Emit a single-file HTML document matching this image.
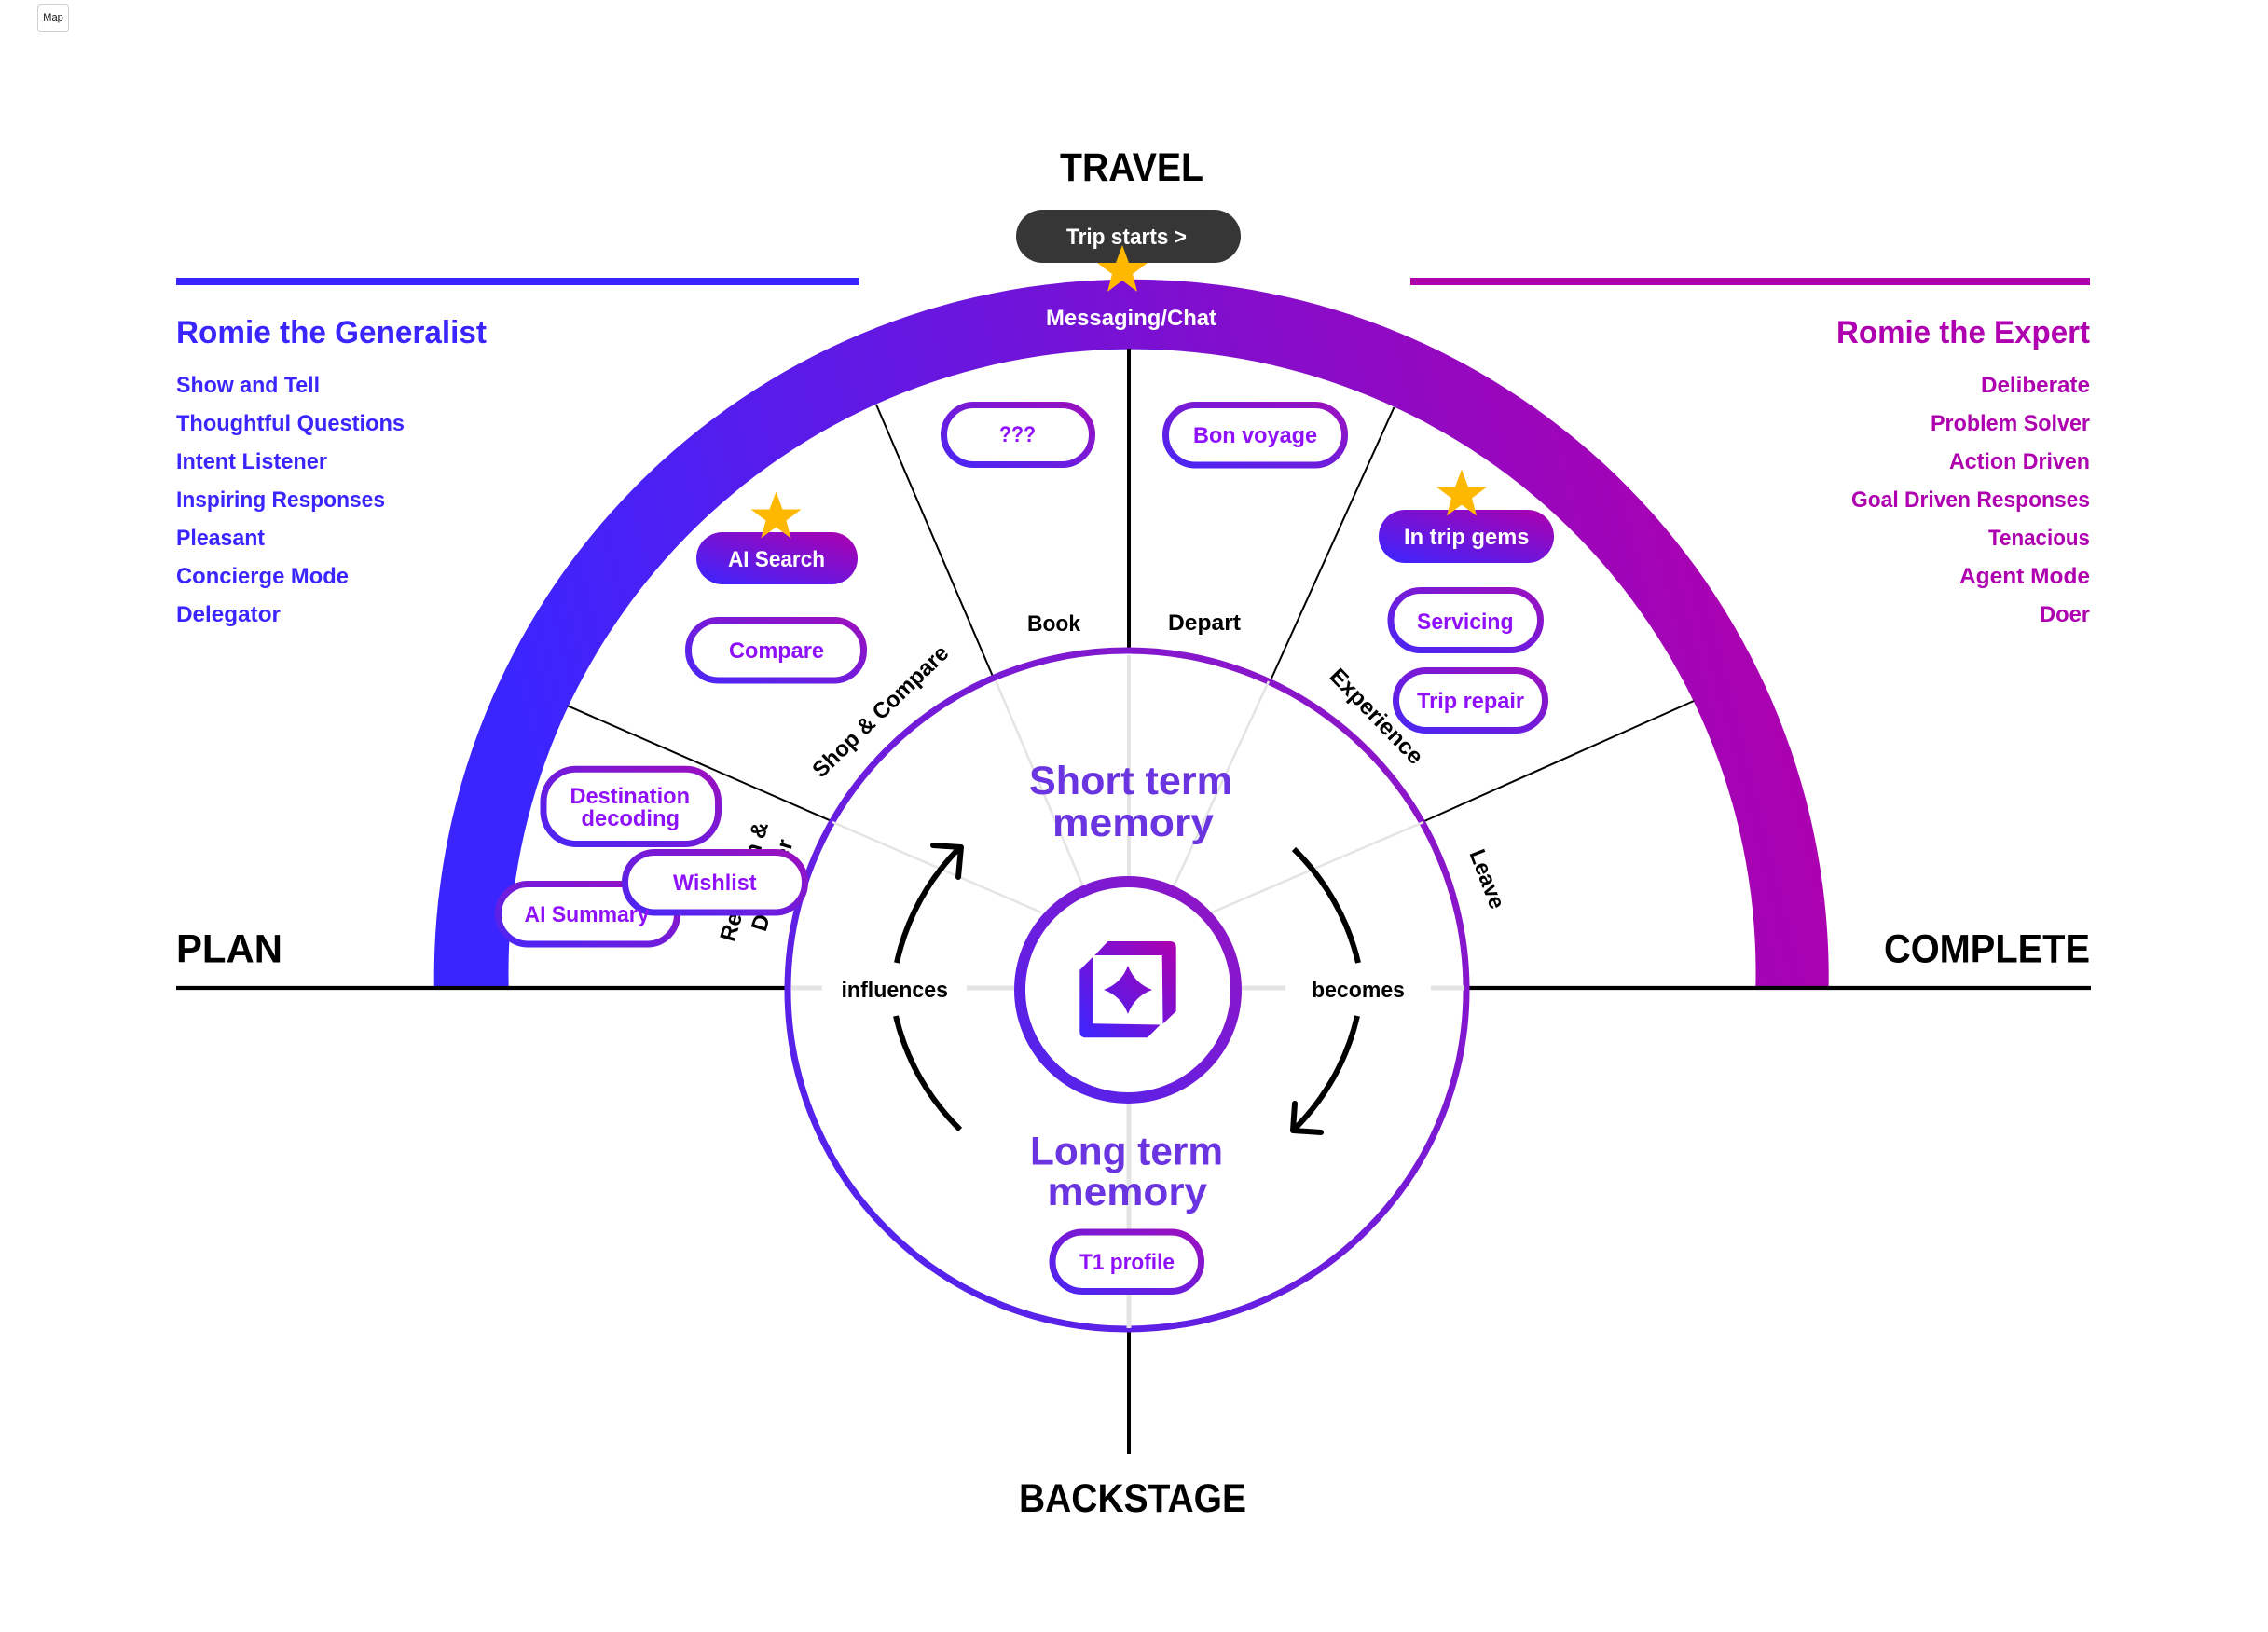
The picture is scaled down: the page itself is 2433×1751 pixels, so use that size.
<!DOCTYPE html>
<html><head><meta charset="utf-8"><style>
html,body{margin:0;padding:0;background:#fff}
svg{display:block}
text{font-family:"Liberation Sans",sans-serif;font-weight:700}
.p{fill:#8F10FA;font-size:24px}
.g{fill:#3B25FF;font-size:24px}
.e{fill:#AE00AE;font-size:24px}
.k{fill:#000;font-size:24px}
.h{fill:#000;font-size:43px}
.m{fill:#6A35E0;font-size:43px}
.w{fill:#fff;font-size:24px}
</style></head><body>
<svg width="2433" height="1751" viewBox="0 0 2433 1751" xmlns="http://www.w3.org/2000/svg">
<defs>
<linearGradient id="band" gradientUnits="userSpaceOnUse" x1="544" y1="700" x2="1851" y2="373"><stop offset="0" stop-color="#3B25FF"/><stop offset="1" stop-color="#AE00AE"/></linearGradient>
<linearGradient id="pill" x1="0" y1="1" x2="1" y2="0"><stop offset="0" stop-color="#4A26F5"/><stop offset="1" stop-color="#9C10BE"/></linearGradient>
<linearGradient id="fill" x1="0" y1="1" x2="1" y2="0"><stop offset="0" stop-color="#3B25FF"/><stop offset="1" stop-color="#AE00AE"/></linearGradient>
<linearGradient id="ring" gradientUnits="userSpaceOnUse" x1="800" y1="1430" x2="1620" y2="700"><stop offset="0" stop-color="#4526F5"/><stop offset="1" stop-color="#9A12C0"/></linearGradient>
<linearGradient id="hub" gradientUnits="userSpaceOnUse" x1="1080" y1="1185" x2="1340" y2="940"><stop offset="0" stop-color="#4826F3"/><stop offset="1" stop-color="#9A12C0"/></linearGradient>
<linearGradient id="icon" gradientUnits="userSpaceOnUse" x1="1158" y1="1113" x2="1262" y2="1010"><stop offset="0" stop-color="#3B25FF"/><stop offset="1" stop-color="#AE00AE"/></linearGradient>
<polygon id="star" points="0,0 7,19 27,19 11,31 16,50 0,38 -16,50 -11,31 -27,19 -7,19" fill="#FFB800"/>
</defs>

<!-- Map tag -->
<rect x="40.5" y="4.5" width="33" height="29" rx="3" fill="#fff" stroke="#cfcfcf"/>
<text x="57" y="22" text-anchor="middle" style="font-size:11px;font-weight:400" fill="#111">Map</text>

<!-- top bars -->
<rect x="189" y="298" width="733" height="8" fill="#3B25FF"/>
<rect x="1513" y="298" width="729" height="8" fill="#AE00AE"/>

<!-- left text -->
<text class="g" x="189" y="368" textLength="333" lengthAdjust="spacingAndGlyphs" style="font-size:34px">Romie the Generalist</text>
<text class="g" x="189" y="421" textLength="154" lengthAdjust="spacingAndGlyphs">Show and Tell</text>
<text class="g" x="189" y="462" textLength="245" lengthAdjust="spacingAndGlyphs">Thoughtful Questions</text>
<text class="g" x="189" y="503" textLength="162" lengthAdjust="spacingAndGlyphs">Intent Listener</text>
<text class="g" x="189" y="544" textLength="224" lengthAdjust="spacingAndGlyphs">Inspiring Responses</text>
<text class="g" x="189" y="585" textLength="95" lengthAdjust="spacingAndGlyphs">Pleasant</text>
<text class="g" x="189" y="626" textLength="185" lengthAdjust="spacingAndGlyphs">Concierge Mode</text>
<text class="g" x="189" y="667" textLength="112" lengthAdjust="spacingAndGlyphs">Delegator</text>

<!-- right text -->
<text class="e" x="1970" y="368" textLength="272" lengthAdjust="spacingAndGlyphs" style="font-size:34px">Romie the Expert</text>
<text class="e" x="2125" y="421" textLength="117" lengthAdjust="spacingAndGlyphs">Deliberate</text>
<text class="e" x="2071" y="462" textLength="171" lengthAdjust="spacingAndGlyphs">Problem Solver</text>
<text class="e" x="2091" y="503" textLength="151" lengthAdjust="spacingAndGlyphs">Action Driven</text>
<text class="e" x="1986" y="544" textLength="256" lengthAdjust="spacingAndGlyphs">Goal Driven Responses</text>
<text class="e" x="2133" y="585" textLength="109" lengthAdjust="spacingAndGlyphs">Tenacious</text>
<text class="e" x="2102" y="626" textLength="140" lengthAdjust="spacingAndGlyphs">Agent Mode</text>
<text class="e" x="2188" y="667" textLength="54" lengthAdjust="spacingAndGlyphs">Doer</text>

<!-- headings -->
<text class="h" x="1137" y="194" textLength="154" lengthAdjust="spacingAndGlyphs">TRAVEL</text>
<text class="h" x="189" y="1032.5" textLength="114" lengthAdjust="spacingAndGlyphs">PLAN</text>
<text class="h" x="2021" y="1032.5" textLength="221" lengthAdjust="spacingAndGlyphs">COMPLETE</text>
<text class="h" x="1093" y="1622" textLength="244" lengthAdjust="spacingAndGlyphs">BACKSTAGE</text>

<!-- band -->
<path d="M465.8 1060 A748 748 0 1 1 1961.6 1060 L1883.3 1060 A669 669 0 1 0 545.7 1060 Z" fill="url(#band)"/>

<!-- spokes -->
<g stroke="#000" fill="none">
<line x1="189" y1="1060" x2="846" y2="1060" stroke-width="4.3"/>
<line x1="1576" y1="1060" x2="2243" y2="1060" stroke-width="4.3"/>
<line x1="1211" y1="374" x2="1211" y2="700" stroke-width="4"/>
<line x1="1211" y1="1428" x2="1211" y2="1560" stroke-width="4"/>
<line x1="940" y1="434" x2="1066" y2="728" stroke-width="2"/>
<line x1="609" y1="757.3" x2="892" y2="881" stroke-width="2"/>
<line x1="1495.5" y1="437" x2="1363" y2="730" stroke-width="2"/>
<line x1="1817" y1="752" x2="1528" y2="881" stroke-width="2"/>
</g>

<!-- big ring -->
<circle cx="1209" cy="1062" r="364" fill="#fff" stroke="url(#ring)" stroke-width="7"/>

<!-- grey inner lines -->
<g stroke="#E4E4E4" fill="none">
<line x1="1211" y1="703" x2="1211" y2="945" stroke-width="4"/>
<line x1="1211" y1="1180" x2="1211" y2="1425" stroke-width="5"/>
<line x1="1068" y1="730" x2="1161" y2="949" stroke-width="2.5"/>
<line x1="893" y1="882" x2="1117" y2="979" stroke-width="2.5"/>
<line x1="1361" y1="731" x2="1260" y2="949" stroke-width="2.5"/>
<line x1="1527" y1="882" x2="1300" y2="979" stroke-width="2.5"/>
<line x1="849" y1="1060" x2="882" y2="1060" stroke-width="5"/>
<line x1="1037" y1="1060" x2="1092" y2="1060" stroke-width="5"/>
<line x1="1328" y1="1060" x2="1379" y2="1060" stroke-width="5"/>
<line x1="1535" y1="1060" x2="1571" y2="1060" stroke-width="5"/>
</g>

<!-- arcs -->
<g stroke="#000" stroke-width="6" fill="none">
<path d="M962 1033 A250 250 0 0 1 1031 908"/>
<path d="M1001 907 L1031 909 L1028 941" stroke-linecap="round" stroke-linejoin="round"/>
<path d="M961 1090 A250 250 0 0 0 1030 1212"/>
<path d="M1388 911 A250 250 0 0 1 1457 1033"/>
<path d="M1456 1090 A250 250 0 0 1 1387 1213"/>
<path d="M1389 1184 L1387 1213 L1417 1215" stroke-linecap="round" stroke-linejoin="round"/>
</g>

<!-- hub -->
<circle cx="1210" cy="1062" r="116" fill="#fff" stroke="url(#hub)" stroke-width="12"/>
<path d="M1188.5 1010 L1255 1010 Q1261.7 1010 1261.7 1017 L1261.7 1085 L1247.5 1098.5 L1246.7 1025 L1174.3 1025 Z" fill="url(#icon)"/>
<path d="M1172.3 1026.7 L1172.3 1098.3 L1244.7 1099.5 L1231 1113.3 L1165 1113.3 Q1158.3 1113.3 1158.3 1106.7 L1158.3 1040.7 Z" fill="url(#icon)"/>
<path d="M1210 1036 Q1217 1055 1236 1062 Q1217 1069 1210 1088 Q1203 1069 1184 1062 Q1203 1055 1210 1036 Z" fill="url(#icon)"/>

<!-- center labels -->
<text class="k" x="902.5" y="1070" textLength="114.5" lengthAdjust="spacingAndGlyphs">influences</text>
<text class="k" x="1407" y="1070" textLength="100" lengthAdjust="spacingAndGlyphs">becomes</text>
<text class="m" x="1104" y="852" textLength="218" lengthAdjust="spacingAndGlyphs">Short term</text>
<text class="m" x="1129" y="897" textLength="173" lengthAdjust="spacingAndGlyphs">memory</text>
<text class="m" x="1105" y="1249.5" textLength="207" lengthAdjust="spacingAndGlyphs">Long term</text>
<text class="m" x="1123.5" y="1293" textLength="171.5" lengthAdjust="spacingAndGlyphs">memory</text>

<!-- section labels -->
<text class="k" x="1102" y="677" textLength="57" lengthAdjust="spacingAndGlyphs">Book</text>
<text class="k" x="1253" y="676" textLength="78" lengthAdjust="spacingAndGlyphs">Depart</text>
<text class="k" text-anchor="middle" transform="translate(950,769) rotate(-44)" style="font-size:24px" textLength="192" lengthAdjust="spacingAndGlyphs">Shop &amp; Compare</text>
<text class="k" text-anchor="middle" transform="translate(1471,774) rotate(46)" style="font-size:24px" textLength="132" lengthAdjust="spacingAndGlyphs">Experience</text>
<text class="k" text-anchor="middle" transform="translate(1588,946) rotate(69)" style="font-size:24px" textLength="66" lengthAdjust="spacingAndGlyphs">Leave</text>
<text class="k" text-anchor="middle" transform="translate(806,948) rotate(-74)" style="font-size:24px">Research &amp;</text>
<text class="k" text-anchor="middle" transform="translate(836,952) rotate(-73)" style="font-size:24px">Discover</text>

<!-- Trip starts -->
<rect x="1090" y="225" width="241" height="57" rx="28.5" fill="#363636"/>
<text class="w" x="1144" y="262" textLength="129" lengthAdjust="spacingAndGlyphs">Trip starts &gt;</text>
<text class="w" x="1122" y="349" textLength="183" lengthAdjust="spacingAndGlyphs">Messaging/Chat</text>
<use href="#star" x="1204" y="263"/>

<!-- pills -->
<g fill="#fff" stroke="url(#pill)" stroke-width="7">
<rect x="1012.5" y="434.5" width="159" height="64" rx="32"/>
<rect x="1250.5" y="434.5" width="192" height="64.5" rx="32"/>
<rect x="738.5" y="665.5" width="188" height="64.5" rx="32"/>
<rect x="1492" y="633.5" width="160.5" height="64" rx="32"/>
<rect x="1497.5" y="719.5" width="160" height="64" rx="32"/>
<rect x="583" y="825.2" width="187.5" height="80.3" rx="35"/>
<rect x="534.5" y="948.5" width="192" height="64.5" rx="32"/>
<rect x="670.5" y="914.5" width="193" height="64.5" rx="32"/>
<rect x="1129" y="1322" width="159.5" height="63.5" rx="32"/>
</g>
<rect x="747" y="571" width="173" height="56" rx="28" fill="url(#fill)"/>
<rect x="1479" y="547" width="188" height="57" rx="28.5" fill="url(#fill)"/>

<text class="p" x="1072" y="474" textLength="39" lengthAdjust="spacingAndGlyphs">???</text>
<text class="p" x="1280" y="475" textLength="133" lengthAdjust="spacingAndGlyphs">Bon voyage</text>
<text class="p" x="782" y="706" textLength="102" lengthAdjust="spacingAndGlyphs">Compare</text>
<text class="p" x="1520" y="675" textLength="103.5" lengthAdjust="spacingAndGlyphs">Servicing</text>
<text class="p" x="1520" y="760" textLength="115" lengthAdjust="spacingAndGlyphs">Trip repair</text>
<text class="p" x="611.5" y="862" textLength="128.5" lengthAdjust="spacingAndGlyphs">Destination</text>
<text class="p" x="623.5" y="886" textLength="105.5" lengthAdjust="spacingAndGlyphs">decoding</text>
<text class="p" x="722" y="955" textLength="89.5" lengthAdjust="spacingAndGlyphs">Wishlist</text>
<text class="p" x="562.5" y="989" textLength="134" lengthAdjust="spacingAndGlyphs">AI Summary</text>
<text class="p" x="1158" y="1362" textLength="102" lengthAdjust="spacingAndGlyphs">T1 profile</text>
<text class="w" x="781" y="608" textLength="104" lengthAdjust="spacingAndGlyphs">AI Search</text>
<text class="w" x="1506" y="584" textLength="134.5" lengthAdjust="spacingAndGlyphs">In trip gems</text>

<use href="#star" x="832.5" y="527.5"/>
<use href="#star" x="1568" y="503.5"/>
</svg>
</body></html>
